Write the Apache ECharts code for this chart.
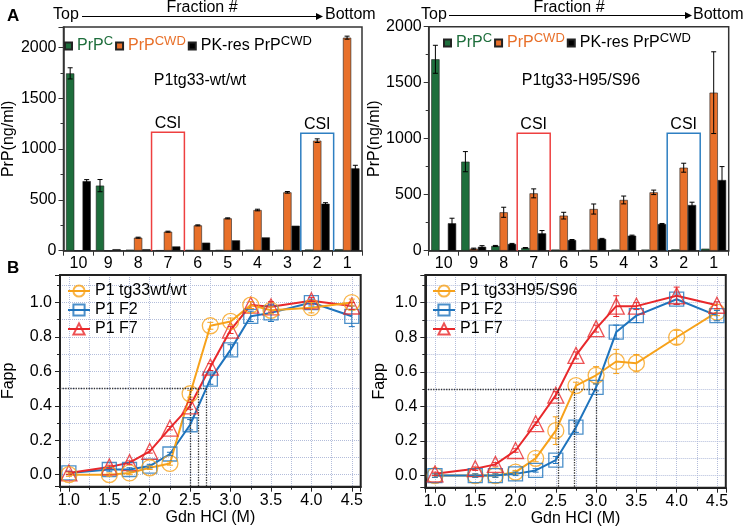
<!DOCTYPE html>
<html><head><meta charset="utf-8">
<script src="https://cdn.jsdelivr.net/npm/echarts@6/dist/echarts.min.js"></script>
<style>html,body{margin:0;padding:0;background:#fff}#c{width:745px;height:529px}</style>
</head><body><div id="c"></div>
<script>
// ---------- DATA ----------
const fractions = ['10','9','8','7','6','5','4','3','2','1'];
// Panel A left: P1tg33-wt/wt
const wtPrPC      = [1744, 640, 10, 5, 8, 8, 10, 10, 12, 15];
const wtPrPCWD    = [0, 0, 128, 187, 249, 318, 400, 574, 1082, 2095];
const wtPKres     = [684, 15, 15, 42, 79, 102, 131, 246, 462, 810];
const wtPrPCErr   = [55, 60, 0, 0, 0, 0, 0, 0, 0, 0];
const wtPrPCWDErr = [0, 0, 5, 5, 5, 5, 8, 8, 18, 15];
const wtPKresErr  = [15, 0, 0, 0, 0, 0, 0, 0, 10, 30];
// Panel A right: P1tg33-H95/S96
const hPrPC       = [1709, 795, 42, 25, 10, 8, 10, 10, 12, 18];
const hPrPCWD     = [0, 18, 343, 512, 313, 372, 453, 521, 741, 1411];
const hPKres      = [245, 35, 60, 155, 95, 105, 134, 238, 408, 631];
const hPrPCErr    = [125, 90, 5, 3, 0, 0, 0, 0, 0, 0];
const hPrPCWDErr  = [0, 5, 45, 40, 30, 45, 35, 20, 40, 365];
const hPKresErr   = [45, 10, 5, 25, 5, 5, 5, 5, 25, 120];
// CSI boxes (fraction, top value)
const csiFractions = ['7', '2'];
const csiTopWt = [1165, 1155];
const csiTopH  = [1048, 1048];
// Panel B
const gdn = [1.0, 1.5, 1.75, 2.0, 2.25, 2.5, 2.75, 3.0, 3.25, 3.5, 4.0, 4.5];
const wtWhole = [0.0, 0.0, 0.01, 0.04, 0.065, 0.47, 0.865, 0.89, 0.985, 0.955, 0.97, 1.0];
const wtF2    = [0.01, 0.03, 0.03, 0.05, 0.12, 0.29, 0.555, 0.725, 0.92, 0.94, 1.0, 0.92];
const wtF7    = [0.01, 0.045, 0.07, 0.135, 0.27, 0.40, 0.625, 0.84, 0.985, 0.975, 1.01, 0.98];
const wtWholeErr = [0.01, 0.01, 0.01, 0.01, 0.01, 0.02, 0.02, 0.02, 0.02, 0.02, 0.03, 0.02];
const wtF2Err    = [0.01, 0.01, 0.01, 0.01, 0.01, 0.03, 0.03, 0.03, 0.03, 0.05, 0.02, 0.06];
const wtF7Err    = [0.01, 0.01, 0.01, 0.01, 0.01, 0.02, 0.02, 0.02, 0.02, 0.03, 0.02, 0.02];
const hWhole = [0.0, 0.0, 0.0, 0.02, 0.1, 0.26, 0.52, 0.58, 0.66, 0.65, 0.8, 0.945];
const hF2    = [0.0, 0.0, 0.0, 0.01, 0.03, 0.09, 0.28, 0.51, 0.83, 0.925, 1.02, 0.925];
const hF7    = [0.01, 0.04, 0.065, 0.145, 0.3, 0.465, 0.695, 0.85, 0.98, 0.98, 1.04, 0.985];
const hWholeErr = [0.01, 0.01, 0.01, 0.01, 0.02, 0.08, 0.02, 0.05, 0.07, 0.05, 0.04, 0.02];
const hF2Err    = [0.01, 0.01, 0.01, 0.01, 0.01, 0.02, 0.03, 0.02, 0.04, 0.04, 0.03, 0.03];
const hF7Err    = [0.01, 0.01, 0.01, 0.01, 0.01, 0.02, 0.02, 0.02, 0.06, 0.02, 0.05, 0.02];
// Midpoints (dotted guide lines at Fapp = 0.5)
const midWt = [2.50, 2.60, 2.70];
const midH  = [2.53, 2.73, 3.0];
const halfFapp = 0.5;
// Axis ranges
const yMaxWt = 2200, yMaxH = 2000;
const bxMin = [0.89, 0.88], bxMax = [4.61, 4.61];
const byMin = -0.07, byMax = 1.16;

// ---------- STYLE ----------
const FONT = 'Liberation Sans, Arial, sans-serif';
const GREEN = '#1e6e3c', ORANGE = '#e8702a', BLACK = '#000000';
const C_OR = '#f7a21b', C_BL = '#1f74bd', C_RD = '#e8282b';
const GAP = 0.17;

const chart = echarts.init(document.getElementById('c'), null, {renderer: 'canvas'});

function barErr(k, xi, yi, vals, errs) {
  return {
    type: 'custom', xAxisIndex: xi, yAxisIndex: yi, z: 5, silent: true,
    data: vals.map((v, i) => [i, v, errs[i]]),
    renderItem: function (params, api) {
      const ci = api.value(0), v = api.value(1), e = api.value(2);
      if (!e) return null;
      const band = api.size([1, 0])[0];
      const bw = band * (1 - GAP) / 3;
      const p = api.coord([ci, v + e]);
      const q = api.coord([ci, Math.max(0, v - e)]);
      const x = p[0] + (k - 1) * bw;
      const st = {stroke: '#000', lineWidth: 1};
      return {type: 'group', children: [
        {type: 'line', shape: {x1: x, y1: p[1], x2: x, y2: q[1]}, style: st},
        {type: 'line', shape: {x1: x - 2.5, y1: p[1], x2: x + 2.5, y2: p[1]}, style: st},
        {type: 'line', shape: {x1: x - 2.5, y1: q[1], x2: x + 2.5, y2: q[1]}, style: st}
      ]};
    }
  };
}

function csiSeries(xi, yi, tops) {
  const cols = ['#ee4040', '#2e7fc2'];
  return {
    type: 'custom', xAxisIndex: xi, yAxisIndex: yi, z: 1, silent: true,
    data: csiFractions.map((f, i) => [fractions.indexOf(f), tops[i], i]),
    renderItem: function (params, api) {
      const ci = api.value(0), top = api.value(1), idx = api.value(2);
      const band = api.size([1, 0])[0];
      const b = api.coord([ci, 0]), t = api.coord([ci, top]);
      const x0 = b[0] - band / 2 - 1.5, x1 = b[0] + band / 2 + 1.5;
      return {type: 'group', children: [
        {type: 'polyline', shape: {points: [[x0, b[1]], [x0, t[1]], [x1, t[1]], [x1, b[1]]]},
         style: {stroke: cols[idx], fill: null, lineWidth: 1.5}},
        {type: 'text', style: {text: 'CSI', x: b[0], y: t[1] - 1, align: 'center', verticalAlign: 'bottom',
          textAlign: 'center', textVerticalAlign: 'bottom', fontSize: 16, fontFamily: FONT, fill: '#000'}}
      ]};
    }
  };
}

function bars(name, xi, yi, vals, color) {
  return {
    name: name, type: 'bar', xAxisIndex: xi, yAxisIndex: yi, data: vals,
    barGap: '0%', barCategoryGap: (GAP * 100) + '%', z: 3,
    itemStyle: {color: color, borderColor: '#222', borderWidth: 0.6}
  };
}

function lineErr(xi, yi, xs, ys, errs, color) {
  return {
    type: 'custom', xAxisIndex: xi, yAxisIndex: yi, z: 4, silent: true,
    data: xs.map((x, i) => [x, ys[i], errs[i]]),
    renderItem: function (params, api) {
      const x = api.value(0), y = api.value(1), e = api.value(2);
      const p = api.coord([x, y + e]), q = api.coord([x, y - e]);
      const st = {stroke: color, lineWidth: 1};
      return {type: 'group', children: [
        {type: 'line', shape: {x1: p[0], y1: p[1], x2: q[0], y2: q[1]}, style: st},
        {type: 'line', shape: {x1: p[0] - 3, y1: p[1], x2: p[0] + 3, y2: p[1]}, style: st},
        {type: 'line', shape: {x1: q[0] - 3, y1: q[1], x2: q[0] + 3, y2: q[1]}, style: st}
      ]};
    }
  };
}

function curve(name, xi, yi, xs, ys, color, symbol, size, mids, xmin) {
  const s = {
    name: name, type: 'line', xAxisIndex: xi, yAxisIndex: yi,
    data: xs.map((x, i) => [x, ys[i]]),
    symbol: symbol, symbolSize: size, z: 3,
    lineStyle: {color: color, width: 2},
    itemStyle: {color: 'rgba(255,255,255,0)', borderColor: color, borderWidth: 1.3, opacity: 0.8},
    emphasis: {disabled: true}
  };
  if (mids) {
    const ln = [[{coord: [xmin, halfFapp]}, {coord: [Math.max.apply(null, mids), halfFapp]}]];
    mids.forEach(m => ln.push([{coord: [m, halfFapp]}, {coord: [m, byMin]}]));
    s.markLine = {silent: true, symbol: ['none', 'none'], animation: false, label: {show: false},
      lineStyle: {type: 'dotted', color: '#333', width: 1.3}, data: ln};
  }
  return s;
}

const catAxis = (gi) => ({
  type: 'category', gridIndex: gi, data: fractions,
  axisLine: {lineStyle: {color: '#333', width: 1.5}},
  axisTick: {show: true, alignWithLabel: false, inside: false, length: 5, lineStyle: {color: '#333'}},
  axisLabel: {fontSize: 16, fontFamily: FONT, color: '#000', margin: 5},
  splitLine: {show: false}
});
const barValAxis = (gi, max) => ({
  type: 'value', gridIndex: gi, min: 0, max: max, interval: 500,
  name: 'PrP(ng/ml)', nameLocation: 'middle', nameGap: 40,
  nameTextStyle: {fontSize: 16, fontFamily: FONT, color: '#000'},
  axisLine: {show: true, lineStyle: {color: '#333', width: 1.5}},
  axisTick: {show: true, length: 5, lineStyle: {color: '#333'}},
  minorTick: {show: true, splitNumber: 2, length: 3, lineStyle: {color: '#333'}},
  axisLabel: {fontSize: 16, fontFamily: FONT, color: '#000', margin: 7, showMaxLabel: max % 500 === 0,
    formatter: v => String(Math.round(v))},
  splitLine: {show: false}
});
const gridLine = {show: true, showMinLine: false, showMaxLine: false,
  lineStyle: {color: '#b3bddb', type: 'dotted', width: 1}};
const minorGridLine = {show: true, lineStyle: {color: '#b3bddb', type: 'dotted', width: 1}};
const bValX = (gi, i) => ({
  type: 'value', gridIndex: gi, min: bxMin[i], max: bxMax[i], splitNumber: 8,
  name: 'Gdn HCl (M)', nameLocation: 'middle', nameGap: 22,
  nameTextStyle: {fontSize: 16, fontFamily: FONT, color: '#000'},
  axisLine: {show: true, onZero: false, lineStyle: {color: '#222', width: 2}},
  axisTick: {show: true, length: 5, lineStyle: {color: '#222'}},
  minorTick: {show: true, splitNumber: 2, length: 3, lineStyle: {color: '#222'}},
  axisLabel: {fontSize: 16, fontFamily: FONT, color: '#000', margin: 6, showMinLabel: false, showMaxLabel: false,
    formatter: v => v.toFixed(1)},
  splitLine: gridLine, minorSplitLine: minorGridLine
});
const bValY = (gi, gap) => ({
  type: 'value', gridIndex: gi, min: byMin, max: byMax, splitNumber: 5,
  name: 'Fapp', nameLocation: 'middle', nameGap: gap,
  nameTextStyle: {fontSize: 16, fontFamily: FONT, color: '#000'},
  axisLine: {show: true, onZero: false, lineStyle: {color: '#222', width: 2}},
  axisTick: {show: true, length: 5, lineStyle: {color: '#222'}},
  minorTick: {show: true, splitNumber: 2, length: 3, lineStyle: {color: '#222'}},
  axisLabel: {fontSize: 16, fontFamily: FONT, color: '#000', margin: 8, showMinLabel: false, showMaxLabel: false,
    formatter: v => v.toFixed(1)},
  splitLine: gridLine, minorSplitLine: minorGridLine
});

const barLegendRich = {
  g: {color: GREEN, fontSize: 16, fontFamily: FONT, lineHeight: 22},
  gs: {color: GREEN, fontSize: 13, fontFamily: FONT, lineHeight: 13, verticalAlign: 'top'},
  o: {color: ORANGE, fontSize: 16, fontFamily: FONT, lineHeight: 22},
  os: {color: ORANGE, fontSize: 13, fontFamily: FONT, lineHeight: 13, verticalAlign: 'top'},
  k: {color: '#000', fontSize: 16, fontFamily: FONT, lineHeight: 22},
  ks: {color: '#000', fontSize: 13, fontFamily: FONT, lineHeight: 13, verticalAlign: 'top'}
};
const barLegendFmt = function (n) {
  if (n === 'PrPC') return '{g|PrP}{gs|C}';
  if (n === 'PrPCWD') return '{o|PrP}{os|CWD}';
  return '{k|PK-res PrP}{ks|CWD}';
};
const barLegend = (left, top) => ({
  left: left, top: top, orient: 'horizontal', icon: 'rect', itemWidth: 7, itemHeight: 7, itemGap: 2,
  selectedMode: false, padding: 0,
  data: ['PrPC', 'PrPCWD', 'PK-res PrPCWD'],
  formatter: barLegendFmt,
  textStyle: {rich: barLegendRich, fontSize: 16, fontFamily: FONT}
});
const lineLegend = (left, names) => ({
  left: left, top: 283, orient: 'vertical', itemWidth: 22, itemHeight: 14, itemGap: 3, padding: 0,
  selectedMode: false, data: names,
  textStyle: {fontSize: 16, fontFamily: FONT, color: '#000', lineHeight: 14}
});

const txt = (x, y, t, opt) => Object.assign({
  type: 'text', x: x, y: y, silent: true,
  style: Object.assign({text: t, fontSize: 16, fontFamily: FONT, fill: '#000',
    align: 'left', verticalAlign: 'middle', textAlign: 'left', textVerticalAlign: 'middle'}, opt || {})
});
const arrow = (x1, x2, y) => ([
  {type: 'line', silent: true, shape: {x1: x1, y1: y, x2: x2 - 5, y2: y}, style: {stroke: '#000', lineWidth: 1.2}},
  {type: 'polygon', silent: true, shape: {points: [[x2 - 7, y - 3.5], [x2, y], [x2 - 7, y + 3.5]]}, style: {fill: '#000'}}
]);

const option = {
  animation: false,
  backgroundColor: '#fff',
  grid: [
    {left: 59.3, top: 27, width: 302.7, height: 223.7, show: true, borderColor: '#333', borderWidth: 1.5},
    {left: 428.7, top: 26.7, width: 300, height: 224, show: true, borderColor: '#333', borderWidth: 1.5},
    {left: 59.3, top: 275, width: 301.4, height: 211.7, show: true, borderColor: '#222', borderWidth: 2, z: 5},
    {left: 425.3, top: 275, width: 300.5, height: 212.7, show: true, borderColor: '#222', borderWidth: 2, z: 5}
  ],
  xAxis: [catAxis(0), catAxis(1), bValX(2, 0), bValX(3, 1)],
  yAxis: [barValAxis(0, yMaxWt), barValAxis(1, yMaxH), bValY(2, 43), bValY(3, 38)],
  legend: [
    barLegend(64, 35),
    barLegend(443, 32),
    lineLegend(67, ['P1 tg33wt/wt', 'P1 F2', 'P1 F7']),
    lineLegend(432, ['P1 tg33H95/S96', 'P1 F2', 'P1 F7'])
  ],
  series: [
    csiSeries(0, 0, csiTopWt),
    bars('PrPC', 0, 0, wtPrPC, GREEN),
    bars('PrPCWD', 0, 0, wtPrPCWD, ORANGE),
    bars('PK-res PrPCWD', 0, 0, wtPKres, BLACK),
    barErr(0, 0, 0, wtPrPC, wtPrPCErr),
    barErr(1, 0, 0, wtPrPCWD, wtPrPCWDErr),
    barErr(2, 0, 0, wtPKres, wtPKresErr),
    csiSeries(1, 1, csiTopH),
    bars('PrPC', 1, 1, hPrPC, GREEN),
    bars('PrPCWD', 1, 1, hPrPCWD, ORANGE),
    bars('PK-res PrPCWD', 1, 1, hPKres, BLACK),
    barErr(0, 1, 1, hPrPC, hPrPCErr),
    barErr(1, 1, 1, hPrPCWD, hPrPCWDErr),
    barErr(2, 1, 1, hPKres, hPKresErr),

    curve('P1 F2', 2, 2, gdn, wtF2, C_BL, 'rect', 14, midWt, bxMin[0]),
    curve('P1 F7', 2, 2, gdn, wtF7, C_RD, 'triangle', 16),
    curve('P1 tg33wt/wt', 2, 2, gdn, wtWhole, C_OR, 'circle', 16),
    lineErr(2, 2, gdn, wtF2, wtF2Err, C_BL),
    lineErr(2, 2, gdn, wtF7, wtF7Err, C_RD),
    lineErr(2, 2, gdn, wtWhole, wtWholeErr, C_OR),

    curve('P1 tg33H95/S96', 3, 3, gdn, hWhole, C_OR, 'circle', 16, midH, bxMin[1]),
    curve('P1 F2', 3, 3, gdn, hF2, C_BL, 'rect', 14),
    curve('P1 F7', 3, 3, gdn, hF7, C_RD, 'triangle', 16),
    lineErr(3, 3, gdn, hWhole, hWholeErr, C_OR),
    lineErr(3, 3, gdn, hF2, hF2Err, C_BL),
    lineErr(3, 3, gdn, hF7, hF7Err, C_RD)
  ],
  graphic: [
    txt(7, 16, 'A', {fontWeight: 'bold', fontSize: 17}),
    txt(7, 268, 'B', {fontWeight: 'bold', fontSize: 17}),
    txt(53, 15, 'Top'),
    txt(325, 15, 'Bottom'),
    txt(202, 8, 'Fraction #', {align: 'center', textAlign: 'center'}),
    txt(421, 15, 'Top'),
    txt(693, 15, 'Bottom'),
    txt(569, 8, 'Fraction #', {align: 'center', textAlign: 'center'}),
    txt(200, 81, 'P1tg33-wt/wt', {align: 'center', textAlign: 'center'}),
    txt(581, 81, 'P1tg33-H95/S96', {align: 'center', textAlign: 'center'})
  ].concat(arrow(82, 323, 16.5)).concat(arrow(449, 692, 15.5))
};
chart.setOption(option);
</script>
</body></html>
